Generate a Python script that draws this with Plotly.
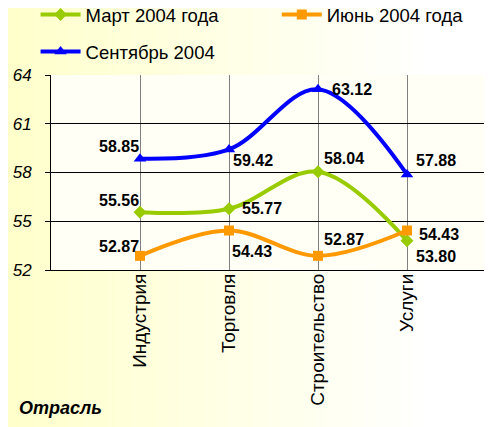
import plotly.graph_objects as go

categories = ["Индустрия", "Торговля", "Строительство", "Услуги"]
march_2004 = [55.56, 55.77, 58.04, 53.80]
june_2004 = [52.87, 54.43, 52.87, 54.43]
sept_2004 = [58.85, 59.42, 63.12, 57.88]
series_names = ["Март 2004 года", "Июнь 2004 года", "Сентябрь 2004"]
y_ticks = [52, 55, 58, 61, 64]

FONT = "Liberation Sans, Arial, sans-serif"

# label offsets (px) per point, relative to the marker
label_shift = {
    "march": [(-21, 12), (33, 0), (26, 13), (29, -16)],
    "june": [(-21, 9), (23, -21), (26, 16), (32, -4)],
    "sept": [(-21, 12), (24, -11), (34, 0), (29, 14)],
}

series = [
    ("march", series_names[0], march_2004, "#99CC00", "diamond", 10, "legend"),
    ("june", series_names[1], june_2004, "#FF9900", "square", 10, "legend3"),
    ("sept", series_names[2], sept_2004, "#0000FF", "triangle-up", 11, "legend2"),
]

fig = go.Figure()
annotations = []
for key, name, vals, color, symbol, msize, leg in series:
    fig.add_trace(go.Scatter(
        x=categories, y=vals, name=name, mode="lines+markers",
        line=dict(color=color, width=4, shape="spline", smoothing=1.0),
        marker=dict(symbol=symbol, size=msize, color=color),
        legend=leg,
    ))
    for cat, v, (dx, dy) in zip(categories, vals, label_shift[key]):
        annotations.append(dict(
            x=cat, y=v, text=f"{v:.2f}", showarrow=False,
            xshift=dx, yshift=dy,
            font=dict(family=FONT, size=16, color="black", weight="bold"),
        ))

annotations.append(dict(
    xref="paper", yref="paper", x=-0.077, y=-0.708,
    xanchor="left", yanchor="middle", showarrow=False,
    text="<b><i>Отрасль</i></b>",
    font=dict(family=FONT, size=18, color="black"),
))

# page has an 8px body margin, so the figure is laid out 8px up/left
ML, MT, MR, MB = 43, 67, 8, 165
PW, PH = 492 - ML - MR, 427 - MT - MB

# background gradient: yellowish on the left fading to white
shapes = []
n = 40
x0, x1 = -ML / PW, 1.0 + MR / PW
for i in range(n):
    t = i / (n - 1)
    g = int(0xCC + (0xFF - 0xCC) * min(1.0, t * 1.15))
    shapes.append(dict(
        type="rect", xref="paper", yref="paper", layer="below",
        x0=x0 + (x1 - x0) * i / n, x1=x0 + (x1 - x0) * (i + 1) / n + 0.002,
        y0=-MB / PH, y1=1 + MT / PH, line=dict(width=0),
        fillcolor=f"rgb(255,255,{g})",
    ))
shapes.append(dict(
    type="rect", xref="paper", yref="paper", layer="below",
    x0=0, x1=1, y0=0, y1=1, line=dict(width=0), fillcolor="#FFFFF6",
))

legend_style = dict(
    orientation="h", xanchor="left", yanchor="middle",
    font=dict(family=FONT, size=18.5), bgcolor="rgba(0,0,0,0)",
    itemwidth=40,
)

fig.update_layout(
    width=492, height=427,
    margin=dict(l=ML, r=MR, t=MT, b=MB, autoexpand=False),
    paper_bgcolor="#FFFFFF",
    plot_bgcolor="#FFFFF6",
    font=dict(family=FONT, color="black"),
    showlegend=True,
    legend=dict(x=-0.035, y=1.308, **legend_style),
    legend3=dict(x=0.512, y=1.308, **legend_style),
    legend2=dict(x=-0.035, y=1.118, **legend_style),
    annotations=annotations,
    shapes=shapes,
    xaxis=dict(
        type="category", range=[-1, 3.955],
        tickangle=-90, tickfont=dict(family=FONT, size=19),
        showgrid=True, gridcolor="#808080", gridwidth=1,
        showline=True, linecolor="black", linewidth=1,
        ticks="", ticklabelstandoff=-5, zeroline=False,
    ),
    yaxis=dict(
        range=[52, 64], tickvals=y_ticks,
        tickfont=dict(family=FONT, size=17, style="italic"),
        showgrid=True, gridcolor="black", gridwidth=1,
        showline=True, linecolor="black", linewidth=1,
        ticks="outside", ticklen=5, tickcolor="black",
        ticklabelstandoff=10, zeroline=False,
    ),
)

fig.write_html("out.html")
